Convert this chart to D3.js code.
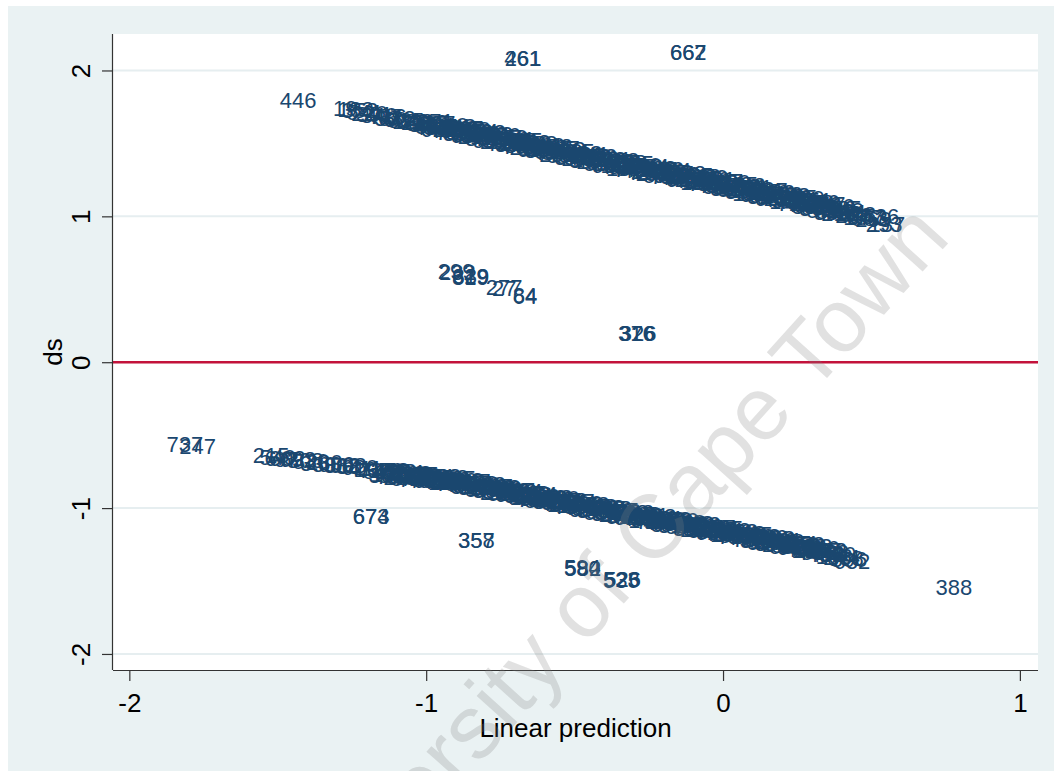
<!DOCTYPE html>
<html>
<head>
<meta charset="utf-8">
<script src="https://cdn.jsdelivr.net/npm/d3@7"></script>
<style>
  body { margin: 0; background: #fff; }
  svg { display: block; font-family: "Liberation Sans", Arial, sans-serif; }
</style>
</head>
<body>
<div id="chart"></div>
<script>
// tick values
const xTicks = [-2, -1, 0, 1];
const yTicks = [-2, -1, 0, 1, 2];

// points off the two bands: [linear prediction, ds, observation]
const outliers = [
  [-1.493, 1.800, "446"],
  [-0.735, 2.084, "261"], [-0.737, 2.084, "461"],
  [-0.179, 2.128, "667"], [-0.179, 2.128, "662"],
  [-0.961, 0.622, "299"], [-0.957, 0.616, "232"],
  [-0.913, 0.590, "629"], [-0.913, 0.586, "819"], [-0.911, 0.588, "339"],
  [-0.799, 0.513, "277"], [-0.778, 0.508, "27"],
  [-0.708, 0.458, "84"], [-0.708, 0.456, "64"],
  [-0.354, 0.198, "316"], [-0.352, 0.198, "376"], [-0.348, 0.198, "326"],
  [-1.875, -0.560, "737"], [-1.832, -0.577, "247"],
  [-1.247, -1.056, "673"], [-1.247, -1.056, "674"],
  [-0.893, -1.222, "357"], [-0.893, -1.222, "358"],
  [-0.536, -1.408, "580"], [-0.536, -1.406, "594"], [-0.534, -1.408, "582"],
  [-0.404, -1.490, "523"], [-0.400, -1.490, "526"], [-0.404, -1.492, "535"],
  [0.716, -1.544, "388"]
];

// upper band (y = 1 cases): [linear prediction, ds, observation]
const upperBand = [
  [-1.314,1.741,"19"],[-1.300,1.733,"183"],[-1.285,1.726,"352"],[-1.268,1.717,"541"],
  [-1.252,1.711,"220"],[-1.236,1.702,"391"],[-1.220,1.697,"340"],[-1.205,1.689,"407"],
  [-1.190,1.684,"716"],[-1.175,1.677,"36"],[-1.160,1.672,"582"],[-1.145,1.666,"60"],
  [-1.130,1.662,"385"],[-1.115,1.655,"126"],[-1.100,1.651,"643"],[-1.085,1.645,"211"],
  [-1.070,1.640,"509"],[-1.060,1.634,"87"],
  [-1.050,1.647,"512"],[-1.0375,1.619,"88"],[-1.025,1.638,"307"],[-1.0125,1.609,"645"],
  [-1.000,1.627,"23"],[-0.9875,1.598,"719"],[-0.975,1.616,"154"],[-0.9625,1.587,"466"],
  [-0.950,1.606,"390"],[-0.9375,1.577,"601"],[-0.925,1.595,"275"],[-0.9125,1.566,"38"],
  [-0.900,1.584,"532"],[-0.8875,1.555,"697"],[-0.875,1.574,"140"],[-0.8625,1.545,"413"],
  [-0.850,1.563,"258"],[-0.8375,1.534,"79"],[-0.825,1.552,"624"],[-0.8125,1.523,"351"],
  [-0.800,1.542,"487"],[-0.7875,1.513,"12"],[-0.775,1.531,"566"],[-0.7625,1.502,"203"],
  [-0.750,1.520,"738"],[-0.7375,1.491,"329"],[-0.725,1.510,"95"],[-0.7125,1.481,"451"],
  [-0.700,1.499,"670"],[-0.6875,1.470,"186"],[-0.675,1.488,"544"],[-0.6625,1.459,"67"],
  [-0.650,1.477,"392"],[-0.6375,1.448,"618"],[-0.625,1.467,"245"],[-0.6125,1.438,"503"],
  [-0.600,1.456,"131"],[-0.5875,1.427,"706"],[-0.575,1.445,"284"],[-0.5625,1.416,"559"],
  [-0.550,1.434,"44"],[-0.5375,1.405,"372"],[-0.525,1.424,"631"],[-0.5125,1.395,"197"],
  [-0.500,1.413,"428"],[-0.4875,1.384,"752"],[-0.475,1.402,"316"],[-0.4625,1.373,"81"],
  [-0.450,1.391,"593"],[-0.4375,1.362,"267"],[-0.425,1.381,"472"],[-0.4125,1.352,"108"],
  [-0.400,1.371,"655"],[-0.3875,1.342,"339"],[-0.375,1.361,"214"],[-0.3625,1.332,"580"],
  [-0.350,1.351,"27"],[-0.3375,1.323,"403"],[-0.325,1.342,"689"],[-0.3125,1.313,"162"],
  [-0.300,1.332,"521"],[-0.2875,1.303,"296"],[-0.275,1.322,"745"],[-0.2625,1.294,"57"],
  [-0.250,1.313,"436"],[-0.2375,1.284,"612"],[-0.225,1.303,"178"],[-0.2125,1.274,"383"],
  [-0.200,1.293,"529"],[-0.1875,1.265,"91"],[-0.175,1.284,"664"],[-0.1625,1.255,"250"],
  [-0.150,1.274,"707"],[-0.1375,1.245,"143"],[-0.125,1.264,"495"],[-0.1125,1.235,"318"],
  [-0.100,1.254,"576"],[-0.0875,1.225,"33"],[-0.075,1.243,"442"],[-0.0625,1.214,"681"],
  [-0.050,1.232,"224"],[-0.0375,1.203,"365"],[-0.025,1.221,"548"],[-0.0125,1.191,"119"],
  [0.000,1.209,"603"],[0.0125,1.180,"289"],[0.025,1.198,"731"],[0.0375,1.169,"72"],
  [0.050,1.187,"458"],[0.0625,1.158,"637"],[0.075,1.176,"195"],[0.0875,1.147,"344"],
  [0.100,1.165,"516"],[0.1125,1.135,"9"],[0.125,1.153,"679"],[0.1375,1.124,"237"],
  [0.150,1.142,"402"],[0.1625,1.113,"585"],[0.175,1.131,"126"],[0.1875,1.102,"713"],
  [0.200,1.120,"301"],[0.2125,1.091,"467"],[0.225,1.109,"52"],[0.2375,1.078,"650"],
  [0.250,1.095,"188"],[0.2625,1.065,"539"],[0.275,1.082,"276"],[0.2875,1.052,"424"],
  [0.300,1.069,"99"],[0.3125,1.039,"591"],[0.325,1.056,"359"],[0.3375,1.025,"726"],
  [0.350,1.042,"148"],[0.365,1.026,"481"],[0.378,1.010,"236"],[0.392,1.014,"608"],
  [0.405,0.998,"15"],[0.418,0.997,"377"],[0.432,0.986,"553"],[0.445,0.979,"269"],
  [0.470,1.004,"536"],[0.481,0.946,"293"],[0.490,0.950,"137"]
];

// more upper-band cases, lying between the ones above
const upperBand2 = [
  [-1.044,1.610,"402"],[-1.031,1.650,"171"],[-1.019,1.601,"628"],[-1.006,1.640,"35"],
  [-0.994,1.590,"493"],[-0.981,1.629,"260"],[-0.969,1.579,"714"],[-0.956,1.618,"148"],
  [-0.944,1.569,"386"],[-0.931,1.608,"527"],[-0.919,1.558,"63"],[-0.906,1.597,"690"],
  [-0.894,1.547,"219"],[-0.881,1.586,"454"],[-0.869,1.537,"307"],[-0.856,1.576,"582"],
  [-0.844,1.526,"98"],[-0.831,1.565,"633"],[-0.819,1.515,"241"],[-0.806,1.554,"476"],
  [-0.794,1.505,"720"],[-0.781,1.544,"159"],[-0.769,1.494,"398"],[-0.756,1.533,"541"],
  [-0.744,1.483,"76"],[-0.731,1.522,"615"],[-0.719,1.473,"283"],[-0.706,1.512,"432"],
  [-0.694,1.462,"697"],[-0.681,1.501,"128"],[-0.669,1.451,"364"],[-0.656,1.490,"509"],
  [-0.644,1.440,"45"],[-0.631,1.479,"672"],[-0.619,1.430,"230"],[-0.606,1.469,"417"],
  [-0.594,1.419,"588"],[-0.581,1.458,"113"],[-0.569,1.408,"349"],[-0.556,1.447,"735"],
  [-0.544,1.397,"262"],[-0.531,1.436,"498"],[-0.519,1.387,"84"],[-0.506,1.426,"641"],
  [-0.494,1.376,"207"],[-0.481,1.415,"373"],[-0.469,1.365,"556"],[-0.456,1.404,"19"],
  [-0.444,1.354,"682"],[-0.431,1.393,"291"],[-0.419,1.344,"445"],[-0.406,1.383,"603"],
  [-0.394,1.334,"137"],[-0.381,1.373,"328"],[-0.369,1.324,"749"],[-0.356,1.363,"185"],
  [-0.344,1.314,"463"],[-0.331,1.354,"520"],[-0.319,1.305,"71"],[-0.306,1.344,"654"],
  [-0.294,1.295,"248"],[-0.281,1.334,"392"],[-0.269,1.285,"577"],[-0.256,1.325,"106"],
  [-0.244,1.276,"711"],[-0.231,1.315,"334"],[-0.219,1.266,"489"],[-0.206,1.305,"57"],
  [-0.194,1.256,"626"],[-0.181,1.296,"273"],[-0.169,1.247,"418"],[-0.156,1.286,"595"],
  [-0.144,1.237,"152"],[-0.131,1.276,"366"],[-0.119,1.227,"702"],[-0.106,1.266,"239"],
  [-0.094,1.217,"484"],[-0.081,1.256,"531"],[-0.069,1.206,"92"],[-0.056,1.245,"667"],
  [-0.044,1.195,"314"],[-0.031,1.234,"450"],[-0.019,1.184,"586"],[-0.006,1.222,"125"],
  [0.006,1.172,"357"],[0.019,1.211,"742"],[0.031,1.161,"198"],[0.044,1.200,"471"],
  [0.056,1.150,"609"],[0.069,1.189,"64"],[0.081,1.139,"325"],[0.094,1.178,"517"],
  [0.106,1.128,"686"],[0.119,1.166,"233"],[0.131,1.116,"409"],[0.144,1.155,"562"],
  [0.156,1.105,"141"],[0.169,1.144,"378"],[0.181,1.094,"724"],[0.194,1.133,"265"],
  [0.206,1.083,"437"],[0.219,1.122,"599"],[0.231,1.072,"88"],[0.244,1.109,"651"],
  [0.256,1.058,"304"],[0.269,1.096,"456"],[0.281,1.045,"572"],[0.294,1.083,"117"],
  [0.306,1.032,"383"],[0.319,1.070,"736"],[0.331,1.019,"212"],[0.344,1.056,"495"]
];

// lower band (y = 0 cases): [linear prediction, ds, observation]
const lowerBand = [
  [-1.584,-0.640,"215"],[-1.562,-0.651,"549"],[-1.545,-0.656,"6"],[-1.530,-0.660,"602"],
  [-1.512,-0.663,"97"],[-1.495,-0.667,"692"],[-1.470,-0.673,"308"],[-1.450,-0.679,"530"],
  [-1.425,-0.690,"3"],[-1.405,-0.688,"230"],[-1.385,-0.697,"30"],[-1.365,-0.695,"686"],
  [-1.345,-0.703,"362"],[-1.325,-0.708,"598"],[-1.305,-0.713,"88"],[-1.285,-0.719,"620"],
  [-1.265,-0.727,"411"],[-1.245,-0.733,"19"],[-1.228,-0.741,"725"],[-1.213,-0.746,"512"],
  [-1.200,-0.742,"670"],[-1.1875,-0.766,"135"],[-1.175,-0.749,"415"],[-1.1625,-0.773,"571"],
  [-1.150,-0.756,"62"],[-1.1375,-0.779,"640"],[-1.125,-0.762,"322"],[-1.1125,-0.785,"499"],
  [-1.100,-0.768,"207"],[-1.0875,-0.791,"744"],[-1.075,-0.774,"170"],[-1.0625,-0.797,"388"],
  [-1.050,-0.780,"263"],[-1.0375,-0.803,"614"],[-1.025,-0.786,"48"],[-1.0125,-0.809,"357"],
  [-1.000,-0.792,"592"],[-0.9875,-0.815,"206"],[-0.975,-0.798,"733"],[-0.9625,-0.823,"118"],
  [-0.950,-0.807,"469"],[-0.9375,-0.832,"84"],[-0.925,-0.816,"625"],[-0.9125,-0.841,"331"],
  [-0.900,-0.826,"557"],[-0.8875,-0.851,"240"],[-0.875,-0.836,"696"],[-0.8625,-0.861,"17"],
  [-0.850,-0.846,"443"],[-0.8375,-0.871,"508"],[-0.825,-0.856,"182"],[-0.8125,-0.881,"367"],
  [-0.800,-0.866,"729"],[-0.7875,-0.891,"254"],[-0.775,-0.875,"633"],[-0.7625,-0.900,"96"],
  [-0.750,-0.885,"478"],[-0.7375,-0.910,"311"],[-0.725,-0.895,"587"],[-0.7125,-0.920,"152"],
  [-0.700,-0.905,"702"],[-0.6875,-0.930,"39"],[-0.675,-0.915,"426"],[-0.6625,-0.940,"668"],
  [-0.650,-0.924,"293"],[-0.6375,-0.949,"514"],[-0.625,-0.934,"171"],[-0.6125,-0.959,"385"],
  [-0.600,-0.944,"747"],[-0.5875,-0.969,"226"],[-0.575,-0.954,"561"],[-0.5625,-0.979,"104"],
  [-0.550,-0.964,"654"],[-0.5375,-0.989,"338"],[-0.525,-0.974,"490"],[-0.5125,-0.999,"61"],
  [-0.500,-0.983,"715"],[-0.4875,-1.008,"279"],[-0.475,-0.993,"432"],[-0.4625,-1.018,"597"],
  [-0.450,-1.003,"145"],[-0.4375,-1.028,"684"],[-0.425,-1.012,"320"],[-0.4125,-1.037,"26"],
  [-0.400,-1.021,"538"],[-0.3875,-1.046,"259"],[-0.375,-1.030,"613"],[-0.3625,-1.055,"406"],
  [-0.350,-1.039,"187"],[-0.3375,-1.064,"723"],[-0.325,-1.049,"348"],[-0.3125,-1.074,"575"],
  [-0.300,-1.058,"93"],[-0.2875,-1.083,"462"],[-0.275,-1.067,"639"],[-0.2625,-1.092,"215"],
  [-0.250,-1.076,"378"],[-0.2375,-1.101,"551"],[-0.225,-1.085,"128"],[-0.2125,-1.110,"699"],
  [-0.200,-1.094,"284"],[-0.1875,-1.119,"417"],[-0.175,-1.103,"606"],[-0.1625,-1.128,"53"],
  [-0.150,-1.112,"739"],[-0.1375,-1.137,"302"],[-0.125,-1.122,"486"],[-0.1125,-1.147,"167"],
  [-0.100,-1.131,"622"],[-0.0875,-1.156,"354"],[-0.075,-1.141,"527"],[-0.0625,-1.166,"75"],
  [-0.050,-1.150,"681"],[-0.0375,-1.175,"243"],[-0.025,-1.160,"396"],[-0.0125,-1.185,"569"],
  [0.000,-1.170,"114"],[0.0125,-1.195,"657"],[0.025,-1.179,"328"],[0.0375,-1.204,"41"],
  [0.050,-1.189,"503"],[0.0625,-1.214,"272"],[0.075,-1.199,"718"],[0.0875,-1.224,"159"],
  [0.100,-1.208,"444"],[0.1125,-1.233,"602"],[0.125,-1.218,"233"],[0.1375,-1.243,"381"],
  [0.150,-1.228,"546"],[0.1625,-1.253,"87"],[0.175,-1.237,"695"],[0.1875,-1.262,"312"],
  [0.200,-1.247,"259"],[0.2125,-1.273,"474"],[0.225,-1.258,"628"],[0.2375,-1.285,"206"],
  [0.250,-1.272,"39"],[0.2625,-1.300,"583"],[0.275,-1.287,"247"],[0.2875,-1.314,"436"],
  [0.300,-1.301,"698"],[0.3125,-1.328,"163"],[0.325,-1.315,"520"],[0.338,-1.335,"244"],
  [0.350,-1.345,"608"],[0.362,-1.352,"396"],[0.372,-1.362,"632"]
];

// more lower-band cases, lying between the ones above
const lowerBand2 = [
  [-1.194,-0.773,"301"],[-1.181,-0.740,"458"],[-1.169,-0.780,"76"],[-1.156,-0.747,"613"],
  [-1.144,-0.787,"229"],[-1.131,-0.754,"384"],[-1.119,-0.793,"547"],[-1.106,-0.760,"192"],
  [-1.094,-0.799,"706"],[-1.081,-0.766,"335"],[-1.069,-0.805,"468"],[-1.056,-0.772,"51"],
  [-1.044,-0.811,"629"],[-1.031,-0.778,"274"],[-1.019,-0.817,"413"],[-1.006,-0.784,"588"],
  [-0.994,-0.823,"137"],[-0.981,-0.790,"352"],[-0.969,-0.829,"741"],[-0.956,-0.797,"205"],
  [-0.944,-0.838,"496"],[-0.931,-0.806,"563"],[-0.919,-0.847,"82"],[-0.906,-0.816,"647"],
  [-0.894,-0.857,"318"],[-0.881,-0.826,"439"],[-0.869,-0.867,"574"],[-0.856,-0.836,"163"],
  [-0.844,-0.877,"391"],[-0.831,-0.846,"727"],[-0.819,-0.887,"246"],[-0.806,-0.856,"482"],
  [-0.794,-0.897,"535"],[-0.781,-0.865,"68"],[-0.769,-0.906,"611"],[-0.756,-0.875,"287"],
  [-0.744,-0.916,"427"],[-0.731,-0.885,"594"],[-0.719,-0.926,"121"],[-0.706,-0.895,"369"],
  [-0.694,-0.936,"713"],[-0.681,-0.905,"254"],[-0.669,-0.946,"505"],[-0.656,-0.914,"44"],
  [-0.644,-0.955,"662"],[-0.631,-0.924,"338"],[-0.619,-0.965,"451"],[-0.606,-0.934,"580"],
  [-0.594,-0.975,"179"],[-0.581,-0.944,"306"],[-0.569,-0.985,"734"],[-0.556,-0.954,"217"],
  [-0.544,-0.995,"489"],[-0.531,-0.964,"526"],[-0.519,-1.005,"95"],[-0.506,-0.973,"673"],
  [-0.494,-1.014,"341"],[-0.481,-0.983,"418"],[-0.469,-1.024,"559"],[-0.456,-0.993,"132"],
  [-0.444,-1.034,"376"],[-0.431,-1.002,"708"],[-0.419,-1.043,"263"],[-0.406,-1.011,"445"],
  [-0.394,-1.052,"517"],[-0.381,-1.020,"69"],[-0.369,-1.061,"624"],[-0.356,-1.029,"292"],
  [-0.344,-1.070,"433"],[-0.331,-1.039,"599"],[-0.319,-1.080,"146"],[-0.306,-1.048,"361"],
  [-0.294,-1.089,"726"],[-0.281,-1.057,"238"],[-0.269,-1.098,"474"],[-0.256,-1.066,"531"],
  [-0.244,-1.107,"87"],[-0.231,-1.075,"658"],[-0.219,-1.116,"313"],[-0.206,-1.084,"456"],
  [-0.194,-1.125,"572"],[-0.181,-1.093,"109"],[-0.169,-1.134,"387"],[-0.156,-1.102,"748"],
  [-0.144,-1.143,"221"],[-0.131,-1.112,"493"],[-0.119,-1.153,"546"],[-0.106,-1.121,"58"],
  [-0.094,-1.162,"636"],[-0.081,-1.131,"277"],[-0.069,-1.172,"412"],[-0.056,-1.140,"585"],
  [-0.044,-1.181,"154"],[-0.031,-1.150,"332"],[-0.019,-1.191,"719"],[-0.006,-1.160,"268"],
  [0.006,-1.201,"447"],[0.019,-1.169,"518"],[0.031,-1.210,"73"],[0.044,-1.179,"645"],
  [0.056,-1.220,"309"],[0.069,-1.189,"462"],[0.081,-1.230,"597"],[0.094,-1.198,"126"],
  [0.106,-1.239,"374"],[0.119,-1.208,"703"],[0.131,-1.249,"245"],[0.144,-1.218,"481"],
  [0.156,-1.259,"552"],[0.169,-1.227,"91"],[0.181,-1.268,"668"],[0.194,-1.237,"324"],
  [0.206,-1.278,"439"],[0.219,-1.247,"573"],[0.231,-1.289,"185"],[0.244,-1.260,"358"],
  [0.256,-1.303,"731"],[0.269,-1.274,"216"],[0.281,-1.318,"497"],[0.294,-1.289,"532"]
];

const width = 1054, height = 771;
const plot = { left: 113, right: 1038, top: 34, bottom: 670 };
const navy = "#1a476f";

const svg = d3.select("#chart").append("svg")
  .attr("width", width)
  .attr("height", height);

// graph region and plot region
svg.append("rect").attr("x", 8).attr("y", 6)
  .attr("width", width - 8).attr("height", height - 6)
  .attr("fill", "#eaf2f3");
svg.append("rect").attr("x", plot.left).attr("y", plot.top)
  .attr("width", plot.right - plot.left).attr("height", plot.bottom - plot.top)
  .attr("fill", "#fff");

const x = d3.scaleLinear().domain([-2.055, 1.061]).range([plot.left, plot.right]);
const y = d3.scaleLinear().domain([-2.11, 2.25]).range([plot.bottom, plot.top]);

// gridlines
svg.append("g").selectAll("line")
  .data(yTicks)
  .join("line")
  .attr("x1", plot.left).attr("x2", plot.right)
  .attr("y1", d => y(d)).attr("y2", d => y(d))
  .attr("stroke", "#e6eef0")
  .attr("stroke-width", 2);

// reference line at zero
svg.append("line")
  .attr("x1", plot.left).attr("x2", plot.right)
  .attr("y1", y(0)).attr("y2", y(0))
  .attr("stroke", "#c3123b")
  .attr("stroke-width", 2.4);

// marker labels
const allPoints = upperBand.concat(upperBand2, lowerBand, lowerBand2, outliers);
svg.append("g")
  .attr("fill", navy)
  .attr("font-size", 22)
  .selectAll("text")
  .data(allPoints)
  .join("text")
  .attr("x", d => x(d[0]))
  .attr("y", d => y(d[1]))
  .attr("dy", "0.36em")
  .text(d => d[2]);

// axes
const xAxis = svg.append("g")
  .attr("transform", `translate(0,${plot.bottom})`)
  .call(d3.axisBottom(x).tickValues(xTicks).tickFormat(d => String(d))
    .tickSize(11).tickSizeOuter(0));
xAxis.select(".domain").attr("d", `M${plot.left},0.5H${plot.right}`);
xAxis.selectAll("text")
  .attr("y", 42).attr("dy", null)
  .attr("font-size", 26).attr("fill", "#000")
  .attr("font-family", null);

const yAxis = svg.append("g")
  .attr("transform", `translate(${plot.left},0)`)
  .call(d3.axisLeft(y).tickValues(yTicks).tickFormat(d => String(d))
    .tickSize(11).tickSizeOuter(0));
yAxis.select(".domain").attr("d", `M-0.5,${plot.top}V${plot.bottom}`);
yAxis.selectAll("text")
  .attr("x", null).attr("dy", null)
  .attr("text-anchor", "middle")
  .attr("transform", "translate(-23,0) rotate(-90)")
  .attr("font-size", 26).attr("fill", "#000")
  .attr("font-family", null);

svg.selectAll(".domain, .tick line").attr("stroke", "#333").attr("stroke-width", 1.2);

// axis titles
svg.append("text")
  .attr("x", (plot.left + plot.right) / 2).attr("y", 737)
  .attr("text-anchor", "middle")
  .attr("font-size", 26)
  .text("Linear prediction");

svg.append("text")
  .attr("transform", `translate(62,${(plot.top + plot.bottom) / 2}) rotate(-90)`)
  .attr("text-anchor", "middle")
  .attr("font-size", 26)
  .text("ds");

// watermark
svg.append("text")
  .attr("transform", "translate(628,599) rotate(-48)")
  .attr("text-anchor", "middle")
  .attr("font-size", 90)
  .attr("fill", "#808080")
  .attr("fill-opacity", 0.24)
  .text("University of Cape Town");
</script>
</body>
</html>
